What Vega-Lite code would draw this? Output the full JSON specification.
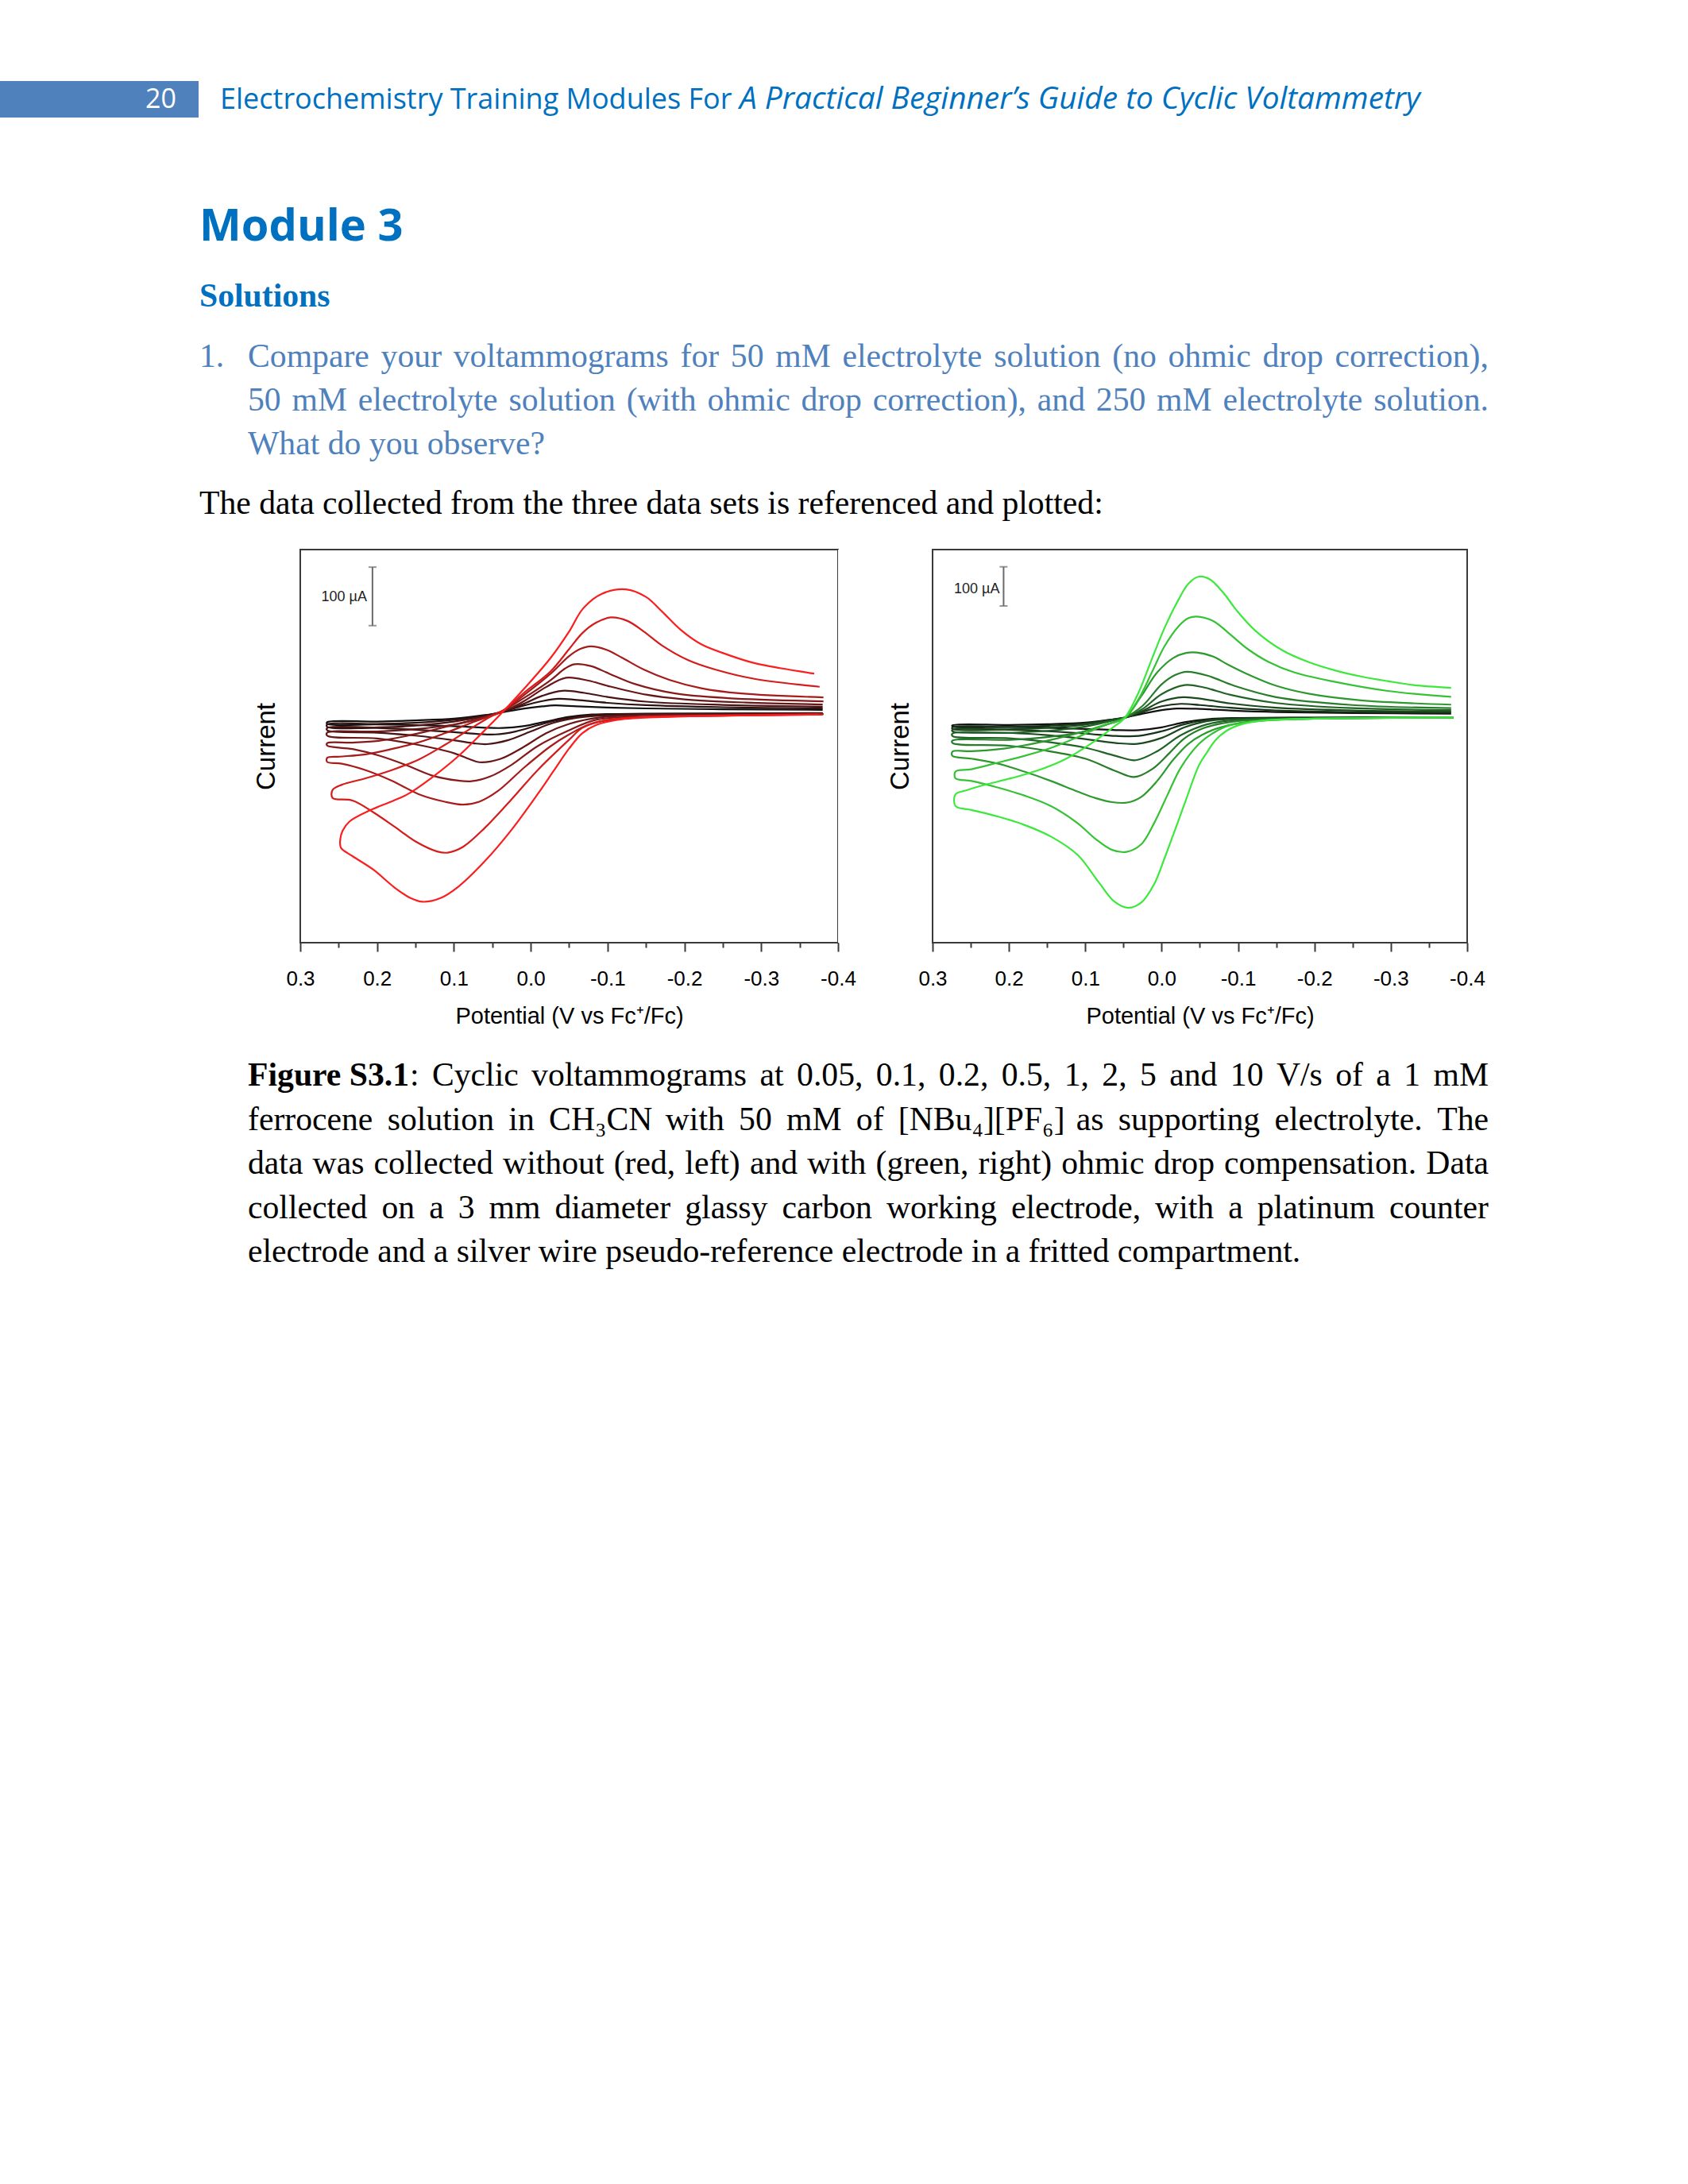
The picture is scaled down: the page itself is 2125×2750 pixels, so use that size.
{
"$schema": "https://vega.github.io/schema/vega-lite/v6.json",
"background": "white",
"padding": {"left": 0, "top": 102, "right": 0, "bottom": 0},
"spacing": 0,
"bounds": "full",
"config": {"view": {"stroke": null}, "font": "Liberation Sans"},
"datasets": {
"L": [
{"r":"0.05","k":0,"V":0.265,"I":-17},{"r":"0.05","k":-1,"V":0.2,"I":-16},{"r":"0.05","k":-2,"V":0.15,"I":-14},{"r":"0.05","k":-3,"V":0.1,"I":-11},{"r":"0.05","k":-4,"V":0.06,"I":-5},{"r":"0.05","k":-5,"V":0.036,"I":0},{"r":"0.05","k":-6,"V":0.01,"I":6},{"r":"0.05","k":-7,"V":-0.015,"I":10},{"r":"0.05","k":-8,"V":-0.031,"I":11.7},{"r":"0.05","k":-9,"V":-0.06,"I":10},{"r":"0.05","k":-10,"V":-0.1,"I":8},{"r":"0.05","k":-11,"V":-0.15,"I":6.5},{"r":"0.05","k":-12,"V":-0.25,"I":5},{"r":"0.05","k":-13,"V":-0.38,"I":4},
{"r":"0.05","k":1,"V":0.265,"I":-20},{"r":"0.05","k":2,"V":0.2,"I":-21},{"r":"0.05","k":3,"V":0.15,"I":-22},{"r":"0.05","k":4,"V":0.1,"I":-24},{"r":"0.05","k":5,"V":0.06,"I":-26.5},{"r":"0.05","k":6,"V":0.037,"I":-27},{"r":"0.05","k":7,"V":0.01,"I":-24},{"r":"0.05","k":8,"V":-0.02,"I":-16},{"r":"0.05","k":9,"V":-0.05,"I":-8},{"r":"0.05","k":10,"V":-0.08,"I":-4},{"r":"0.05","k":11,"V":-0.15,"I":-2.5},{"r":"0.05","k":12,"V":-0.25,"I":-2},{"r":"0.05","k":13,"V":-0.38,"I":-1.5},
{"r":"0.1","k":0,"V":0.265,"I":-21},{"r":"0.1","k":-1,"V":0.2,"I":-20},{"r":"0.1","k":-2,"V":0.15,"I":-18},{"r":"0.1","k":-3,"V":0.1,"I":-13},{"r":"0.1","k":-4,"V":0.06,"I":-6},{"r":"0.1","k":-5,"V":0.036,"I":1},{"r":"0.1","k":-6,"V":0.01,"I":11},{"r":"0.1","k":-7,"V":-0.015,"I":19},{"r":"0.1","k":-8,"V":-0.036,"I":23},{"r":"0.1","k":-9,"V":-0.06,"I":21},{"r":"0.1","k":-10,"V":-0.1,"I":16},{"r":"0.1","k":-11,"V":-0.15,"I":12},{"r":"0.1","k":-12,"V":-0.25,"I":8.5},{"r":"0.1","k":-13,"V":-0.38,"I":6.3},
{"r":"0.1","k":1,"V":0.265,"I":-25},{"r":"0.1","k":2,"V":0.2,"I":-27},{"r":"0.1","k":3,"V":0.15,"I":-30},{"r":"0.1","k":4,"V":0.1,"I":-34},{"r":"0.1","k":5,"V":0.07,"I":-37},{"r":"0.1","k":6,"V":0.046,"I":-38},{"r":"0.1","k":7,"V":0.02,"I":-33},{"r":"0.1","k":8,"V":-0.01,"I":-22},{"r":"0.1","k":9,"V":-0.04,"I":-12},{"r":"0.1","k":10,"V":-0.08,"I":-5},{"r":"0.1","k":11,"V":-0.15,"I":-3},{"r":"0.1","k":12,"V":-0.25,"I":-2.5},{"r":"0.1","k":13,"V":-0.38,"I":-2},
{"r":"0.2","k":0,"V":0.265,"I":-27},{"r":"0.2","k":-1,"V":0.2,"I":-26},{"r":"0.2","k":-2,"V":0.15,"I":-23},{"r":"0.2","k":-3,"V":0.1,"I":-16},{"r":"0.2","k":-4,"V":0.06,"I":-7},{"r":"0.2","k":-5,"V":0.036,"I":1},{"r":"0.2","k":-6,"V":0.01,"I":14},{"r":"0.2","k":-7,"V":-0.015,"I":28},{"r":"0.2","k":-8,"V":-0.041,"I":36.6},{"r":"0.2","k":-9,"V":-0.07,"I":33},{"r":"0.2","k":-10,"V":-0.1,"I":26},{"r":"0.2","k":-11,"V":-0.15,"I":18},{"r":"0.2","k":-12,"V":-0.25,"I":12.5},{"r":"0.2","k":-13,"V":-0.38,"I":9.5},
{"r":"0.2","k":1,"V":0.265,"I":-31},{"r":"0.2","k":2,"V":0.2,"I":-35},{"r":"0.2","k":3,"V":0.15,"I":-40},{"r":"0.2","k":4,"V":0.1,"I":-48},{"r":"0.2","k":5,"V":0.075,"I":-53},{"r":"0.2","k":6,"V":0.057,"I":-54.6},{"r":"0.2","k":7,"V":0.03,"I":-48},{"r":"0.2","k":8,"V":0.0,"I":-33},{"r":"0.2","k":9,"V":-0.03,"I":-18},{"r":"0.2","k":10,"V":-0.07,"I":-8},{"r":"0.2","k":11,"V":-0.15,"I":-4},{"r":"0.2","k":12,"V":-0.25,"I":-3},{"r":"0.2","k":13,"V":-0.38,"I":-2.5},
{"r":"0.5","k":0,"V":0.265,"I":-35},{"r":"0.5","k":-1,"V":0.2,"I":-33},{"r":"0.5","k":-2,"V":0.15,"I":-29},{"r":"0.5","k":-3,"V":0.1,"I":-21},{"r":"0.5","k":-4,"V":0.06,"I":-9},{"r":"0.5","k":-5,"V":0.036,"I":1},{"r":"0.5","k":-6,"V":0.01,"I":18},{"r":"0.5","k":-7,"V":-0.02,"I":43},{"r":"0.5","k":-8,"V":-0.046,"I":59},{"r":"0.5","k":-9,"V":-0.075,"I":54},{"r":"0.5","k":-10,"V":-0.1,"I":45},{"r":"0.5","k":-11,"V":-0.15,"I":30},{"r":"0.5","k":-12,"V":-0.2,"I":22},{"r":"0.5","k":-13,"V":-0.28,"I":16.5},{"r":"0.5","k":-14,"V":-0.38,"I":13.2},
{"r":"0.5","k":1,"V":0.265,"I":-40},{"r":"0.5","k":2,"V":0.2,"I":-45},{"r":"0.5","k":3,"V":0.15,"I":-55},{"r":"0.5","k":4,"V":0.1,"I":-70},{"r":"0.5","k":5,"V":0.08,"I":-80},{"r":"0.5","k":6,"V":0.067,"I":-85.5},{"r":"0.5","k":7,"V":0.04,"I":-80},{"r":"0.5","k":8,"V":0.01,"I":-60},{"r":"0.5","k":9,"V":-0.02,"I":-36},{"r":"0.5","k":10,"V":-0.05,"I":-20},{"r":"0.5","k":11,"V":-0.09,"I":-9},{"r":"0.5","k":12,"V":-0.15,"I":-5},{"r":"0.5","k":13,"V":-0.25,"I":-3.5},{"r":"0.5","k":14,"V":-0.38,"I":-2.5},
{"r":"1","k":0,"V":0.265,"I":-53},{"r":"1","k":-1,"V":0.232,"I":-52},{"r":"1","k":-2,"V":0.198,"I":-49},{"r":"1","k":-3,"V":0.163,"I":-41},{"r":"1","k":-4,"V":0.129,"I":-31},{"r":"1","k":-5,"V":0.095,"I":-20},{"r":"1","k":-6,"V":0.06,"I":-8.6},{"r":"1","k":-7,"V":0.036,"I":2.8},{"r":"1","k":-8,"V":0.008,"I":25},{"r":"1","k":-9,"V":-0.026,"I":55},{"r":"1","k":-10,"V":-0.045,"I":75},{"r":"1","k":-11,"V":-0.057,"I":82},{"r":"1","k":-12,"V":-0.078,"I":79},{"r":"1","k":-13,"V":-0.102,"I":66},{"r":"1","k":-14,"V":-0.136,"I":48},{"r":"1","k":-15,"V":-0.188,"I":32},{"r":"1","k":-16,"V":-0.257,"I":24},{"r":"1","k":-17,"V":-0.381,"I":18.6},
{"r":"1","k":1,"V":0.265,"I":-57},{"r":"1","k":2,"V":0.232,"I":-63},{"r":"1","k":3,"V":0.198,"I":-74},{"r":"1","k":4,"V":0.163,"I":-90},{"r":"1","k":5,"V":0.129,"I":-108},{"r":"1","k":6,"V":0.094,"I":-117},{"r":"1","k":7,"V":0.077,"I":-118},{"r":"1","k":8,"V":0.053,"I":-110},{"r":"1","k":9,"V":0.025,"I":-90},{"r":"1","k":10,"V":-0.009,"I":-58},{"r":"1","k":11,"V":-0.05,"I":-31},{"r":"1","k":12,"V":-0.085,"I":-13},{"r":"1","k":13,"V":-0.154,"I":-7.6},{"r":"1","k":14,"V":-0.381,"I":-3},
{"r":"2","k":0,"V":0.265,"I":-78},{"r":"2","k":-1,"V":0.249,"I":-76},{"r":"2","k":-2,"V":0.215,"I":-72},{"r":"2","k":-3,"V":0.181,"I":-63},{"r":"2","k":-4,"V":0.146,"I":-51.5},{"r":"2","k":-5,"V":0.112,"I":-36},{"r":"2","k":-6,"V":0.077,"I":-18},{"r":"2","k":-7,"V":0.036,"I":2.8},{"r":"2","k":-8,"V":0.008,"I":30},{"r":"2","k":-9,"V":-0.026,"I":66},{"r":"2","k":-10,"V":-0.05,"I":96},{"r":"2","k":-11,"V":-0.064,"I":108},{"r":"2","k":-12,"V":-0.078,"I":112.6},{"r":"2","k":-13,"V":-0.098,"I":107},{"r":"2","k":-14,"V":-0.119,"I":93},{"r":"2","k":-15,"V":-0.147,"I":73},{"r":"2","k":-16,"V":-0.181,"I":55},{"r":"2","k":-17,"V":-0.222,"I":41},{"r":"2","k":-18,"V":-0.274,"I":32},{"r":"2","k":-19,"V":-0.381,"I":25.3},
{"r":"2","k":1,"V":0.265,"I":-85},{"r":"2","k":2,"V":0.246,"I":-88},{"r":"2","k":3,"V":0.215,"I":-99},{"r":"2","k":4,"V":0.181,"I":-117},{"r":"2","k":5,"V":0.146,"I":-140},{"r":"2","k":6,"V":0.112,"I":-153},{"r":"2","k":7,"V":0.088,"I":-158},{"r":"2","k":8,"V":0.067,"I":-153},{"r":"2","k":9,"V":0.043,"I":-135},{"r":"2","k":10,"V":0.008,"I":-94},{"r":"2","k":11,"V":-0.026,"I":-58},{"r":"2","k":12,"V":-0.05,"I":-38},{"r":"2","k":13,"V":-0.078,"I":-20},{"r":"2","k":14,"V":-0.119,"I":-11},{"r":"2","k":15,"V":-0.222,"I":-6.3},{"r":"2","k":16,"V":-0.381,"I":-3.5},
{"r":"5","k":0,"V":0.258,"I":-133},{"r":"5","k":-1,"V":0.246,"I":-124},{"r":"5","k":-2,"V":0.215,"I":-113},{"r":"5","k":-3,"V":0.181,"I":-99},{"r":"5","k":-4,"V":0.146,"I":-81},{"r":"5","k":-5,"V":0.112,"I":-56},{"r":"5","k":-6,"V":0.077,"I":-27},{"r":"5","k":-7,"V":0.053,"I":-8},{"r":"5","k":-8,"V":0.036,"I":3},{"r":"5","k":-9,"V":0.008,"I":34},{"r":"5","k":-10,"V":-0.026,"I":70},{"r":"5","k":-11,"V":-0.05,"I":108},{"r":"5","k":-12,"V":-0.067,"I":135},{"r":"5","k":-13,"V":-0.085,"I":153},{"r":"5","k":-14,"V":-0.104,"I":162},{"r":"5","k":-15,"V":-0.126,"I":156},{"r":"5","k":-16,"V":-0.147,"I":138},{"r":"5","k":-17,"V":-0.171,"I":114},{"r":"5","k":-18,"V":-0.205,"I":89},{"r":"5","k":-19,"V":-0.24,"I":73},{"r":"5","k":-20,"V":-0.291,"I":57},{"r":"5","k":-21,"V":-0.376,"I":43.5},
{"r":"5","k":1,"V":0.258,"I":-146.5},{"r":"5","k":2,"V":0.232,"I":-151},{"r":"5","k":3,"V":0.205,"I":-171},{"r":"5","k":4,"V":0.177,"I":-196},{"r":"5","k":5,"V":0.15,"I":-221},{"r":"5","k":6,"V":0.122,"I":-238},{"r":"5","k":7,"V":0.108,"I":-240},{"r":"5","k":8,"V":0.088,"I":-230},{"r":"5","k":9,"V":0.06,"I":-198},{"r":"5","k":10,"V":0.025,"I":-149},{"r":"5","k":11,"V":-0.009,"I":-99},{"r":"5","k":12,"V":-0.05,"I":-47},{"r":"5","k":13,"V":-0.067,"I":-27},{"r":"5","k":14,"V":-0.092,"I":-15},{"r":"5","k":15,"V":-0.136,"I":-8.6},{"r":"5","k":16,"V":-0.222,"I":-6.3},{"r":"5","k":17,"V":-0.38,"I":-4},
{"r":"10","k":0,"V":0.248,"I":-218},{"r":"10","k":-1,"V":0.245,"I":-203},{"r":"10","k":-2,"V":0.236,"I":-187},{"r":"10","k":-3,"V":0.208,"I":-167},{"r":"10","k":-4,"V":0.18,"I":-152},{"r":"10","k":-5,"V":0.16,"I":-140},{"r":"10","k":-6,"V":0.13,"I":-113},{"r":"10","k":-7,"V":0.095,"I":-76},{"r":"10","k":-8,"V":0.06,"I":-31},{"r":"10","k":-9,"V":0.036,"I":1},{"r":"10","k":-10,"V":0.008,"I":41},{"r":"10","k":-11,"V":-0.026,"I":93},{"r":"10","k":-12,"V":-0.05,"I":138},{"r":"10","k":-13,"V":-0.068,"I":177},{"r":"10","k":-14,"V":-0.092,"I":202},{"r":"10","k":-15,"V":-0.124,"I":210},{"r":"10","k":-16,"V":-0.15,"I":197},{"r":"10","k":-17,"V":-0.171,"I":172},{"r":"10","k":-18,"V":-0.195,"I":141},{"r":"10","k":-19,"V":-0.222,"I":116},{"r":"10","k":-20,"V":-0.257,"I":98},{"r":"10","k":-21,"V":-0.291,"I":84},{"r":"10","k":-22,"V":-0.326,"I":75},{"r":"10","k":-23,"V":-0.369,"I":66},
{"r":"10","k":1,"V":0.247,"I":-232},{"r":"10","k":2,"V":0.232,"I":-246},{"r":"10","k":3,"V":0.205,"I":-269},{"r":"10","k":4,"V":0.177,"I":-300},{"r":"10","k":5,"V":0.156,"I":-318},{"r":"10","k":6,"V":0.141,"I":-324},{"r":"10","k":7,"V":0.118,"I":-318},{"r":"10","k":8,"V":0.094,"I":-298},{"r":"10","k":9,"V":0.06,"I":-255},{"r":"10","k":10,"V":0.025,"I":-201},{"r":"10","k":11,"V":-0.009,"I":-140},{"r":"10","k":12,"V":-0.03,"I":-100},{"r":"10","k":13,"V":-0.05,"I":-62},{"r":"10","k":14,"V":-0.067,"I":-36},{"r":"10","k":15,"V":-0.085,"I":-22},{"r":"10","k":16,"V":-0.119,"I":-12},{"r":"10","k":17,"V":-0.188,"I":-7.6},{"r":"10","k":18,"V":-0.257,"I":-6},{"r":"10","k":19,"V":-0.375,"I":-4}
],
"R": [
{"r":"0.05","k":0,"V":0.274,"I":-25},{"r":"0.05","k":-1,"V":0.2,"I":-24},{"r":"0.05","k":-2,"V":0.15,"I":-22},{"r":"0.05","k":-3,"V":0.1,"I":-18},{"r":"0.05","k":-4,"V":0.065,"I":-10},{"r":"0.05","k":-5,"V":0.048,"I":-5},{"r":"0.05","k":-6,"V":0.025,"I":5},{"r":"0.05","k":-7,"V":0.0,"I":14},{"r":"0.05","k":-8,"V":-0.02,"I":18},{"r":"0.05","k":-9,"V":-0.05,"I":17},{"r":"0.05","k":-10,"V":-0.09,"I":13},{"r":"0.05","k":-11,"V":-0.15,"I":9},{"r":"0.05","k":-12,"V":-0.25,"I":6.5},{"r":"0.05","k":-13,"V":-0.379,"I":4.7},
{"r":"0.05","k":1,"V":0.274,"I":-28},{"r":"0.05","k":2,"V":0.2,"I":-29},{"r":"0.05","k":3,"V":0.15,"I":-31},{"r":"0.05","k":4,"V":0.1,"I":-34},{"r":"0.05","k":5,"V":0.06,"I":-37},{"r":"0.05","k":6,"V":0.03,"I":-37},{"r":"0.05","k":7,"V":0.0,"I":-30},{"r":"0.05","k":8,"V":-0.03,"I":-17},{"r":"0.05","k":9,"V":-0.06,"I":-9},{"r":"0.05","k":10,"V":-0.1,"I":-6},{"r":"0.05","k":11,"V":-0.2,"I":-5},{"r":"0.05","k":12,"V":-0.382,"I":-4.7},
{"r":"0.1","k":0,"V":0.274,"I":-30},{"r":"0.1","k":-1,"V":0.2,"I":-29},{"r":"0.1","k":-2,"V":0.15,"I":-26},{"r":"0.1","k":-3,"V":0.1,"I":-20},{"r":"0.1","k":-4,"V":0.065,"I":-10},{"r":"0.1","k":-5,"V":0.048,"I":-5},{"r":"0.1","k":-6,"V":0.025,"I":9},{"r":"0.1","k":-7,"V":0.0,"I":24},{"r":"0.1","k":-8,"V":-0.025,"I":30},{"r":"0.1","k":-9,"V":-0.05,"I":27},{"r":"0.1","k":-10,"V":-0.09,"I":20},{"r":"0.1","k":-11,"V":-0.15,"I":13},{"r":"0.1","k":-12,"V":-0.25,"I":9},{"r":"0.1","k":-13,"V":-0.379,"I":7.5},
{"r":"0.1","k":1,"V":0.274,"I":-34},{"r":"0.1","k":2,"V":0.2,"I":-36},{"r":"0.1","k":3,"V":0.15,"I":-40},{"r":"0.1","k":4,"V":0.1,"I":-46},{"r":"0.1","k":5,"V":0.06,"I":-52},{"r":"0.1","k":6,"V":0.03,"I":-52},{"r":"0.1","k":7,"V":0.0,"I":-40},{"r":"0.1","k":8,"V":-0.03,"I":-22},{"r":"0.1","k":9,"V":-0.06,"I":-11},{"r":"0.1","k":10,"V":-0.1,"I":-7},{"r":"0.1","k":11,"V":-0.2,"I":-5.5},{"r":"0.1","k":12,"V":-0.382,"I":-4.7},
{"r":"0.2","k":0,"V":0.274,"I":-36},{"r":"0.2","k":-1,"V":0.2,"I":-35},{"r":"0.2","k":-2,"V":0.15,"I":-31},{"r":"0.2","k":-3,"V":0.1,"I":-23},{"r":"0.2","k":-4,"V":0.065,"I":-11},{"r":"0.2","k":-5,"V":0.048,"I":-5},{"r":"0.2","k":-6,"V":0.025,"I":12},{"r":"0.2","k":-7,"V":0.0,"I":36},{"r":"0.2","k":-8,"V":-0.028,"I":47},{"r":"0.2","k":-9,"V":-0.055,"I":42},{"r":"0.2","k":-10,"V":-0.09,"I":31},{"r":"0.2","k":-11,"V":-0.15,"I":20},{"r":"0.2","k":-12,"V":-0.25,"I":13},{"r":"0.2","k":-13,"V":-0.379,"I":10},
{"r":"0.2","k":1,"V":0.274,"I":-40},{"r":"0.2","k":2,"V":0.2,"I":-44},{"r":"0.2","k":3,"V":0.15,"I":-50},{"r":"0.2","k":4,"V":0.1,"I":-60},{"r":"0.2","k":5,"V":0.06,"I":-70},{"r":"0.2","k":6,"V":0.032,"I":-72},{"r":"0.2","k":7,"V":0.0,"I":-57},{"r":"0.2","k":8,"V":-0.03,"I":-30},{"r":"0.2","k":9,"V":-0.06,"I":-14},{"r":"0.2","k":10,"V":-0.1,"I":-8},{"r":"0.2","k":11,"V":-0.2,"I":-6},{"r":"0.2","k":12,"V":-0.382,"I":-4.7},
{"r":"0.5","k":0,"V":0.274,"I":-46},{"r":"0.5","k":-1,"V":0.2,"I":-44},{"r":"0.5","k":-2,"V":0.15,"I":-39},{"r":"0.5","k":-3,"V":0.1,"I":-28},{"r":"0.5","k":-4,"V":0.065,"I":-13},{"r":"0.5","k":-5,"V":0.048,"I":-5},{"r":"0.5","k":-6,"V":0.025,"I":17},{"r":"0.5","k":-7,"V":0.0,"I":55},{"r":"0.5","k":-8,"V":-0.03,"I":78},{"r":"0.5","k":-9,"V":-0.055,"I":72},{"r":"0.5","k":-10,"V":-0.09,"I":53},{"r":"0.5","k":-11,"V":-0.15,"I":32},{"r":"0.5","k":-12,"V":-0.25,"I":19},{"r":"0.5","k":-13,"V":-0.379,"I":14},
{"r":"0.5","k":1,"V":0.274,"I":-52},{"r":"0.5","k":2,"V":0.2,"I":-58},{"r":"0.5","k":3,"V":0.15,"I":-67},{"r":"0.5","k":4,"V":0.1,"I":-82},{"r":"0.5","k":5,"V":0.06,"I":-103},{"r":"0.5","k":6,"V":0.034,"I":-114},{"r":"0.5","k":7,"V":0.005,"I":-90},{"r":"0.5","k":8,"V":-0.025,"I":-50},{"r":"0.5","k":9,"V":-0.06,"I":-22},{"r":"0.5","k":10,"V":-0.1,"I":-11},{"r":"0.5","k":11,"V":-0.2,"I":-7},{"r":"0.5","k":12,"V":-0.382,"I":-4.7},
{"r":"1","k":0,"V":0.274,"I":-64},{"r":"1","k":-1,"V":0.2,"I":-62},{"r":"1","k":-2,"V":0.15,"I":-55},{"r":"1","k":-3,"V":0.1,"I":-40},{"r":"1","k":-4,"V":0.065,"I":-18},{"r":"1","k":-5,"V":0.048,"I":-5},{"r":"1","k":-6,"V":0.025,"I":25},{"r":"1","k":-7,"V":0.0,"I":80},{"r":"1","k":-8,"V":-0.018,"I":104},{"r":"1","k":-9,"V":-0.033,"I":112},{"r":"1","k":-10,"V":-0.06,"I":102},{"r":"1","k":-11,"V":-0.095,"I":76},{"r":"1","k":-12,"V":-0.15,"I":47},{"r":"1","k":-13,"V":-0.25,"I":27},{"r":"1","k":-14,"V":-0.379,"I":19},
{"r":"1","k":1,"V":0.274,"I":-70},{"r":"1","k":2,"V":0.2,"I":-77},{"r":"1","k":3,"V":0.15,"I":-90},{"r":"1","k":4,"V":0.1,"I":-110},{"r":"1","k":5,"V":0.06,"I":-142},{"r":"1","k":6,"V":0.036,"I":-157},{"r":"1","k":7,"V":0.012,"I":-136},{"r":"1","k":8,"V":-0.01,"I":-96},{"r":"1","k":9,"V":-0.03,"I":-58},{"r":"1","k":10,"V":-0.055,"I":-32},{"r":"1","k":11,"V":-0.1,"I":-14},{"r":"1","k":12,"V":-0.2,"I":-8},{"r":"1","k":13,"V":-0.382,"I":-4.7},
{"r":"2","k":0,"V":0.274,"I":-92},{"r":"2","k":-1,"V":0.249,"I":-91},{"r":"2","k":-2,"V":0.214,"I":-86},{"r":"2","k":-3,"V":0.18,"I":-76},{"r":"2","k":-4,"V":0.145,"I":-62},{"r":"2","k":-5,"V":0.11,"I":-45},{"r":"2","k":-6,"V":0.076,"I":-25},{"r":"2","k":-7,"V":0.048,"I":-5},{"r":"2","k":-8,"V":0.027,"I":49},{"r":"2","k":-9,"V":0.006,"I":110},{"r":"2","k":-10,"V":-0.015,"I":147},{"r":"2","k":-11,"V":-0.032,"I":160},{"r":"2","k":-12,"V":-0.046,"I":161},{"r":"2","k":-13,"V":-0.067,"I":151},{"r":"2","k":-14,"V":-0.087,"I":130},{"r":"2","k":-15,"V":-0.115,"I":103.5},{"r":"2","k":-16,"V":-0.15,"I":76},{"r":"2","k":-17,"V":-0.192,"I":56},{"r":"2","k":-18,"V":-0.261,"I":39},{"r":"2","k":-19,"V":-0.379,"I":28},
{"r":"2","k":1,"V":0.274,"I":-103},{"r":"2","k":2,"V":0.249,"I":-110},{"r":"2","k":3,"V":0.214,"I":-123},{"r":"2","k":4,"V":0.18,"I":-143},{"r":"2","k":5,"V":0.145,"I":-167},{"r":"2","k":6,"V":0.11,"I":-194},{"r":"2","k":7,"V":0.086,"I":-211},{"r":"2","k":8,"V":0.065,"I":-221},{"r":"2","k":9,"V":0.045,"I":-222},{"r":"2","k":10,"V":0.027,"I":-208},{"r":"2","k":11,"V":0.006,"I":-167},{"r":"2","k":12,"V":-0.015,"I":-113},{"r":"2","k":13,"V":-0.035,"I":-72},{"r":"2","k":14,"V":-0.053,"I":-49},{"r":"2","k":15,"V":-0.074,"I":-32},{"r":"2","k":16,"V":-0.105,"I":-18},{"r":"2","k":17,"V":-0.157,"I":-10},{"r":"2","k":18,"V":-0.382,"I":-4.7},
{"r":"5","k":0,"V":0.27,"I":-143},{"r":"5","k":-1,"V":0.249,"I":-137},{"r":"5","k":-2,"V":0.214,"I":-120},{"r":"5","k":-3,"V":0.18,"I":-103},{"r":"5","k":-4,"V":0.145,"I":-82.5},{"r":"5","k":-5,"V":0.11,"I":-55},{"r":"5","k":-6,"V":0.076,"I":-25},{"r":"5","k":-7,"V":0.048,"I":-5},{"r":"5","k":-8,"V":0.03,"I":43},{"r":"5","k":-9,"V":0.013,"I":110},{"r":"5","k":-10,"V":-0.004,"I":178},{"r":"5","k":-11,"V":-0.022,"I":228},{"r":"5","k":-12,"V":-0.035,"I":249},{"r":"5","k":-13,"V":-0.046,"I":253},{"r":"5","k":-14,"V":-0.067,"I":242},{"r":"5","k":-15,"V":-0.087,"I":212},{"r":"5","k":-16,"V":-0.112,"I":171},{"r":"5","k":-17,"V":-0.14,"I":137},{"r":"5","k":-18,"V":-0.174,"I":110},{"r":"5","k":-19,"V":-0.226,"I":86.5},{"r":"5","k":-20,"V":-0.296,"I":63},{"r":"5","k":-21,"V":-0.379,"I":48},
{"r":"5","k":1,"V":0.27,"I":-160},{"r":"5","k":2,"V":0.249,"I":-167},{"r":"5","k":3,"V":0.214,"I":-184},{"r":"5","k":4,"V":0.18,"I":-204},{"r":"5","k":5,"V":0.145,"I":-231},{"r":"5","k":6,"V":0.11,"I":-275},{"r":"5","k":7,"V":0.086,"I":-316},{"r":"5","k":8,"V":0.065,"I":-343},{"r":"5","k":9,"V":0.046,"I":-348},{"r":"5","k":10,"V":0.027,"I":-329},{"r":"5","k":11,"V":0.01,"I":-275},{"r":"5","k":12,"V":-0.008,"I":-201},{"r":"5","k":13,"V":-0.025,"I":-133},{"r":"5","k":14,"V":-0.049,"I":-72},{"r":"5","k":15,"V":-0.067,"I":-45},{"r":"5","k":16,"V":-0.087,"I":-26},{"r":"5","k":17,"V":-0.122,"I":-15},{"r":"5","k":18,"V":-0.192,"I":-8},{"r":"5","k":19,"V":-0.382,"I":-4.7},
{"r":"10","k":0,"V":0.27,"I":-201},{"r":"10","k":-1,"V":0.256,"I":-191},{"r":"10","k":-2,"V":0.232,"I":-177},{"r":"10","k":-3,"V":0.197,"I":-160},{"r":"10","k":-4,"V":0.162,"I":-140},{"r":"10","k":-5,"V":0.128,"I":-113},{"r":"10","k":-6,"V":0.093,"I":-72},{"r":"10","k":-7,"V":0.065,"I":-32},{"r":"10","k":-8,"V":0.048,"I":-5},{"r":"10","k":-9,"V":0.03,"I":60},{"r":"10","k":-10,"V":0.013,"I":144},{"r":"10","k":-11,"V":-0.004,"I":225},{"r":"10","k":-12,"V":-0.022,"I":296},{"r":"10","k":-13,"V":-0.035,"I":337},{"r":"10","k":-14,"V":-0.049,"I":355},{"r":"10","k":-15,"V":-0.063,"I":348},{"r":"10","k":-16,"V":-0.081,"I":313},{"r":"10","k":-17,"V":-0.098,"I":269},{"r":"10","k":-18,"V":-0.122,"I":218},{"r":"10","k":-19,"V":-0.157,"I":168},{"r":"10","k":-20,"V":-0.192,"I":137},{"r":"10","k":-21,"V":-0.226,"I":116},{"r":"10","k":-22,"V":-0.261,"I":100},{"r":"10","k":-23,"V":-0.296,"I":88},{"r":"10","k":-24,"V":-0.33,"I":78},{"r":"10","k":-25,"V":-0.379,"I":71},
{"r":"10","k":1,"V":0.27,"I":-231},{"r":"10","k":2,"V":0.249,"I":-241},{"r":"10","k":3,"V":0.214,"I":-258},{"r":"10","k":4,"V":0.18,"I":-279},{"r":"10","k":5,"V":0.145,"I":-309},{"r":"10","k":6,"V":0.11,"I":-356},{"r":"10","k":7,"V":0.083,"I":-424},{"r":"10","k":8,"V":0.062,"I":-475},{"r":"10","k":9,"V":0.044,"I":-491},{"r":"10","k":10,"V":0.027,"I":-478},{"r":"10","k":11,"V":0.01,"I":-431},{"r":"10","k":12,"V":-0.004,"I":-363},{"r":"10","k":13,"V":-0.018,"I":-289},{"r":"10","k":14,"V":-0.032,"I":-214},{"r":"10","k":15,"V":-0.049,"I":-126},{"r":"10","k":16,"V":-0.06,"I":-92},{"r":"10","k":17,"V":-0.07,"I":-64},{"r":"10","k":18,"V":-0.084,"I":-40},{"r":"10","k":19,"V":-0.105,"I":-22},{"r":"10","k":20,"V":-0.14,"I":-11.5},{"r":"10","k":21,"V":-0.226,"I":-7},{"r":"10","k":22,"V":-0.382,"I":-4.7}
]
},
"vconcat": [
{
"spacing": 0, "bounds": "flush",
"hconcat": [
{"width": 250, "height": 46, "view": {"fill": "#4F81BD", "stroke": null},
 "data": {"values": [{"t": "20"}]},
 "mark": {"type": "text", "align": "right", "baseline": "alphabetic", "font": "Open Sans", "fontSize": 34, "color": "white"},
 "encoding": {"text": {"field": "t"}, "x": {"value": 222}, "y": {"value": 34}}},
{"width": 27, "height": 46, "data": {"values": []}, "mark": "text"},
{"width": 652, "height": 46,
 "data": {"values": [{"t": "Electrochemistry Training Modules For"}]},
 "mark": {"type": "text", "align": "left", "baseline": "alphabetic", "font": "Open Sans", "fontSize": 36, "color": "#0070C0"},
 "encoding": {"text": {"field": "t"}, "x": {"value": 0}, "y": {"value": 35}}},
{"width": 1196, "height": 46,
 "data": {"values": [{"t": "A Practical Beginner’s Guide to Cyclic Voltammetry"}]},
 "mark": {"type": "text", "align": "left", "baseline": "alphabetic", "font": "Open Sans", "fontStyle": "italic", "fontSize": 38.8, "color": "#0070C0"},
 "encoding": {"text": {"field": "t"}, "x": {"value": 2}, "y": {"value": 35}}}
]
},
{
"width": 2125, "height": 543,
"view": {"fill": "white", "stroke": null},
"resolve": {"scale": {"x": "independent"}},
"layer": [
 {"data": {"values": [{"t": "Module 3"}]},
  "mark": {"type": "text", "align": "left", "baseline": "alphabetic", "font": "Open Sans", "fontWeight": "bold", "fontSize": 56, "color": "#0070C0"},
  "encoding": {"text": {"field": "t"}, "x": {"value": 251}, "y": {"value": 155}}},
 {"data": {"values": [{"t": "Solutions"}]},
  "mark": {"type": "text", "align": "left", "baseline": "alphabetic", "font": "Liberation Serif", "fontWeight": "bold", "fontSize": 41.7, "color": "#0070C0"},
  "encoding": {"text": {"field": "t"}, "x": {"value": 251}, "y": {"value": 238}}},
 {"data": {"values": [{"t": "1."}]},
  "mark": {"type": "text", "align": "left", "baseline": "alphabetic", "font": "Liberation Serif", "fontSize": 41.7, "color": "#4F81BD"},
  "encoding": {"text": {"field": "t"}, "x": {"value": 251}, "y": {"value": 314}}},
 {"data": {"values": [{"w":1,"t":"Compare"},{"w":2,"t":"your"},{"w":3,"t":"voltammograms"},{"w":4,"t":"for"},{"w":5,"t":"50"},{"w":6,"t":"mM"},{"w":7,"t":"electrolyte"},{"w":8,"t":"solution"},{"w":9,"t":"(no"},{"w":10,"t":"ohmic"},{"w":11,"t":"drop"},{"w":12,"t":"correction),"}]},
  "mark": {"type": "text", "align": "left", "baseline": "alphabetic", "font": "Liberation Serif", "fontSize": 41.7, "color": "#4F81BD"},
  "encoding": {"text": {"field": "t"}, "y": {"value": 314},
   "x": {"field": "w", "type": "quantitative", "axis": null, "scale": {"nice": false, "zero": false, "domain": [1,2,3,4,5,6,7,8,9,10,11,12], "range": [312,479.6,570.7,856.5,919.8,976.2,1060.4,1251.2,1400.3,1470.5,1589.5,1680.6]}}}},
 {"data": {"values": [{"w":1,"t":"50"},{"w":2,"t":"mM"},{"w":3,"t":"electrolyte"},{"w":4,"t":"solution"},{"w":5,"t":"(with"},{"w":6,"t":"ohmic"},{"w":7,"t":"drop"},{"w":8,"t":"correction),"},{"w":9,"t":"and"},{"w":10,"t":"250"},{"w":11,"t":"mM"},{"w":12,"t":"electrolyte"},{"w":13,"t":"solution."}]},
  "mark": {"type": "text", "align": "left", "baseline": "alphabetic", "font": "Liberation Serif", "fontSize": 41.7, "color": "#4F81BD"},
  "encoding": {"text": {"field": "t"}, "y": {"value": 369},
   "x": {"field": "w", "type": "quantitative", "axis": null, "scale": {"nice": false, "zero": false, "domain": [1,2,3,4,5,6,7,8,9,10,11,12,13], "range": [312,367.5,450.7,640.5,788.7,890.5,1008.5,1098.7,1305.8,1379.8,1456.1,1539.4,1729.2]}}}},
 {"data": {"values": [{"t": "What do you observe?"}]},
  "mark": {"type": "text", "align": "left", "baseline": "alphabetic", "font": "Liberation Serif", "fontSize": 41.7, "color": "#4F81BD"},
  "encoding": {"text": {"field": "t"}, "x": {"value": 312}, "y": {"value": 424}}},
 {"data": {"values": [{"t": "The data collected from the three data sets is referenced and plotted:"}]},
  "mark": {"type": "text", "align": "left", "baseline": "alphabetic", "font": "Liberation Serif", "fontSize": 41.7, "color": "black"},
  "encoding": {"text": {"field": "t"}, "x": {"value": 251}, "y": {"value": 499}}}
]
},
{
"spacing": 0, "bounds": "flush",
"resolve": {"scale": {"color": "independent"}},
"hconcat": [
{"width": 378, "height": 495, "view": {"fill": "white", "stroke": null}, "data": {"values": []}, "mark": "text"},
{
"width": 677, "height": 495,
"view": {"stroke": "#3a3a3a", "strokeWidth": 2},
"layer": [
 {"data": {"name": "L"},
  "mark": {"type": "line", "interpolate": "catmull-rom", "strokeWidth": 2.2},
  "encoding": {
   "x": {"field": "V", "type": "quantitative",
     "scale": {"domain": [-0.4, 0.3], "reverse": true, "nice": false, "zero": false},
     "axis": {"values": [0.3,0.25,0.2,0.15,0.1,0.05,0,-0.05,-0.1,-0.15,-0.2,-0.25,-0.3,-0.35,-0.4],
       "labelExpr": "abs(datum.value*10 - round(datum.value*10)) < 0.01 ? (datum.value < -0.001 ? '-' : '') + format(abs(datum.value), '.1f') : ''",
       "tickSize": {"condition": {"test": "abs(datum.value*10 - round(datum.value*10)) < 0.01", "value": 11}, "value": 6},
       "tickColor": "#3a3a3a", "tickWidth": 2, "domain": false, "grid": false,
       "labelFont": "Liberation Sans", "labelFontSize": 26, "labelColor": "black", "labelPadding": 21,
       "labelOverlap": false, "labelFlush": false, "labelBound": false,
       "title": "Potential (V vs Fc⁺/Fc)", "titleFont": "Liberation Sans", "titleFontSize": 29, "titleFontWeight": "normal", "titleColor": "black", "titlePadding": 20}},
   "y": {"field": "I", "type": "quantitative",
     "scale": {"domain": [-394, 278], "nice": false, "zero": false},
     "axis": {"title": "Current", "ticks": false, "labels": false, "domain": false, "grid": false,
       "titleFont": "Liberation Sans", "titleFontSize": 33, "titleFontWeight": "normal", "titleColor": "black", "titlePadding": 26}},
   "color": {"field": "r", "type": "nominal",
     "scale": {"domain": ["0.05","0.1","0.2","0.5","1","2","5","10"],
       "range": ["#111111","#2e1111","#4a1414","#671717","#861a1a","#a81b1b","#d41c1c","#fa1e1e"]},
     "legend": null},
   "order": {"field": "k", "type": "quantitative"}
  }},
 {"data": {"values": [{"V": 0.206, "lo": 148, "hi": 248}]},
  "mark": {"type": "rule", "color": "#6b6b6b", "strokeWidth": 2},
  "encoding": {"x": {"field": "V", "type": "quantitative"}, "y": {"field": "lo", "type": "quantitative"}, "y2": {"field": "hi"}}},
 {"data": {"values": [{"V": 0.206, "I": 148}, {"V": 0.206, "I": 248}]},
  "mark": {"type": "tick", "orient": "horizontal", "color": "#6b6b6b", "size": 10, "thickness": 2},
  "encoding": {"x": {"field": "V", "type": "quantitative"}, "y": {"field": "I", "type": "quantitative"}}},
 {"data": {"values": [{"V": 0.206, "I": 197, "t": "100 µA"}]},
  "mark": {"type": "text", "align": "right", "baseline": "middle", "dx": -7, "fontSize": 18, "font": "Liberation Sans", "color": "#222222"},
  "encoding": {"x": {"field": "V", "type": "quantitative"}, "y": {"field": "I", "type": "quantitative"}, "text": {"field": "t"}}}
]
},
{"width": 119, "height": 495, "view": {"fill": "white", "stroke": null}, "data": {"values": []}, "mark": "text"},
{
"width": 673, "height": 495,
"view": {"stroke": "#3a3a3a", "strokeWidth": 2},
"layer": [
 {"data": {"name": "R"},
  "mark": {"type": "line", "interpolate": "catmull-rom", "strokeWidth": 2.2},
  "encoding": {
   "x": {"field": "V", "type": "quantitative",
     "scale": {"domain": [-0.4, 0.3], "reverse": true, "nice": false, "zero": false},
     "axis": {"values": [0.3,0.25,0.2,0.15,0.1,0.05,0,-0.05,-0.1,-0.15,-0.2,-0.25,-0.3,-0.35,-0.4],
       "labelExpr": "abs(datum.value*10 - round(datum.value*10)) < 0.01 ? (datum.value < -0.001 ? '-' : '') + format(abs(datum.value), '.1f') : ''",
       "tickSize": {"condition": {"test": "abs(datum.value*10 - round(datum.value*10)) < 0.01", "value": 11}, "value": 6},
       "tickColor": "#3a3a3a", "tickWidth": 2, "domain": false, "grid": false,
       "labelFont": "Liberation Sans", "labelFontSize": 26, "labelColor": "black", "labelPadding": 21,
       "labelOverlap": false, "labelFlush": false, "labelBound": false,
       "title": "Potential (V vs Fc⁺/Fc)", "titleFont": "Liberation Sans", "titleFontSize": 29, "titleFontWeight": "normal", "titleColor": "black", "titlePadding": 20}},
   "y": {"field": "I", "type": "quantitative",
     "scale": {"domain": [-580, 424], "nice": false, "zero": false},
     "axis": {"title": "Current", "ticks": false, "labels": false, "domain": false, "grid": false,
       "titleFont": "Liberation Sans", "titleFontSize": 33, "titleFontWeight": "normal", "titleColor": "black", "titlePadding": 24}},
   "color": {"field": "r", "type": "nominal",
     "scale": {"domain": ["0.05","0.1","0.2","0.5","1","2","5","10"],
       "range": ["#111111","#163217","#1b4a1d","#216324","#287d2a","#2e9a2e","#35c235","#3de83d"]},
     "legend": null},
   "order": {"field": "k", "type": "quantitative"}
  }},
 {"data": {"values": [{"V": 0.207, "lo": 280, "hi": 380}]},
  "mark": {"type": "rule", "color": "#6b6b6b", "strokeWidth": 2},
  "encoding": {"x": {"field": "V", "type": "quantitative"}, "y": {"field": "lo", "type": "quantitative"}, "y2": {"field": "hi"}}},
 {"data": {"values": [{"V": 0.207, "I": 280}, {"V": 0.207, "I": 380}]},
  "mark": {"type": "tick", "orient": "horizontal", "color": "#6b6b6b", "size": 10, "thickness": 2},
  "encoding": {"x": {"field": "V", "type": "quantitative"}, "y": {"field": "I", "type": "quantitative"}}},
 {"data": {"values": [{"V": 0.207, "I": 322, "t": "100 µA"}]},
  "mark": {"type": "text", "align": "right", "baseline": "middle", "dx": -5, "fontSize": 18, "font": "Liberation Sans", "color": "#222222"},
  "encoding": {"x": {"field": "V", "type": "quantitative"}, "y": {"field": "I", "type": "quantitative"}, "text": {"field": "t"}}}
]
}
]
},
{
"width": 2125, "height": 340,
"view": {"fill": "white", "stroke": null},
"resolve": {"scale": {"x": "independent"}},
"layer": [
 {"data": {"values": [{"t": "Figure S3.1"}]},
  "mark": {"type": "text", "align": "left", "baseline": "alphabetic", "font": "Liberation Serif", "fontWeight": "bold", "fontSize": 41.7, "color": "black"},
  "encoding": {"text": {"field": "t"}, "x": {"value": 312}, "y": {"value": 72}}},
 {"data": {"values": [{"t": ":"}]},
  "mark": {"type": "text", "align": "left", "baseline": "alphabetic", "font": "Liberation Serif", "fontSize": 41.7, "color": "black"},
  "encoding": {"text": {"field": "t"}, "x": {"value": 516}, "y": {"value": 72}}},
 {"data": {"values": [{"w":2,"t":"Cyclic"},{"w":3,"t":"voltammograms"},{"w":4,"t":"at"},{"w":5,"t":"0.05,"},{"w":6,"t":"0.1,"},{"w":7,"t":"0.2,"},{"w":8,"t":"0.5,"},{"w":9,"t":"1,"},{"w":10,"t":"2,"},{"w":11,"t":"5"},{"w":12,"t":"and"},{"w":13,"t":"10"},{"w":14,"t":"V/s"},{"w":15,"t":"of"},{"w":16,"t":"a"},{"w":17,"t":"1"},{"w":18,"t":"mM"}]},
  "mark": {"type": "text", "align": "left", "baseline": "alphabetic", "font": "Liberation Serif", "fontSize": 41.7, "color": "black"},
  "encoding": {"text": {"field": "t"}, "y": {"value": 72},
   "x": {"field": "w", "type": "quantitative", "axis": null, "scale": {"nice": false, "zero": false, "domain": [2,3,4,5,6,7,8,9,10,11,12,13,14,15,16,17,18], "range": [543.9,669.1,956.6,1003.1,1102.8,1181.8,1260.7,1339.7,1387.3,1435.0,1472.2,1548.8,1606.9,1681.2,1732.3,1767.2,1804.5]}}}},
 {"data": {"values": [{"w":1,"t":"ferrocene"},{"w":2,"t":"solution"},{"w":3,"t":"in"},{"w":4,"t":"CH₃CN"},{"w":5,"t":"with"},{"w":6,"t":"50"},{"w":7,"t":"mM"},{"w":8,"t":"of"},{"w":9,"t":"[NBu₄][PF₆]"},{"w":10,"t":"as"},{"w":11,"t":"supporting"},{"w":12,"t":"electrolyte."},{"w":13,"t":"The"}]},
  "mark": {"type": "text", "align": "left", "baseline": "alphabetic", "font": "Liberation Serif", "fontSize": 41.7, "color": "black"},
  "encoding": {"text": {"field": "t"}, "y": {"value": 127.5},
   "x": {"field": "w", "type": "quantitative", "axis": null, "scale": {"nice": false, "zero": false, "domain": [1,2,3,4,5,6,7,8,9,10,11,12,13], "range": [312,487.7,640.3,691.1,837.7,930.1,990.0,1077.8,1130.8,1354.8,1407.8,1604.4,1809.2]}}}},
 {"data": {"values": [{"w":1,"t":"data"},{"w":2,"t":"was"},{"w":3,"t":"collected"},{"w":4,"t":"without"},{"w":5,"t":"(red,"},{"w":6,"t":"left)"},{"w":7,"t":"and"},{"w":8,"t":"with"},{"w":9,"t":"(green,"},{"w":10,"t":"right)"},{"w":11,"t":"ohmic"},{"w":12,"t":"drop"},{"w":13,"t":"compensation."},{"w":14,"t":"Data"}]},
  "mark": {"type": "text", "align": "left", "baseline": "alphabetic", "font": "Liberation Serif", "fontSize": 41.7, "color": "black"},
  "encoding": {"text": {"field": "t"}, "y": {"value": 183},
   "x": {"field": "w", "type": "quantitative", "axis": null, "scale": {"nice": false, "zero": false, "domain": [1,2,3,4,5,6,7,8,9,10,11,12,13,14], "range": [312,393.6,470.5,633.1,772.7,862.3,943.9,1016.2,1102.5,1231.5,1336.2,1452.6,1541.1,1795.3]}}}},
 {"data": {"values": [{"w":1,"t":"collected"},{"w":2,"t":"on"},{"w":3,"t":"a"},{"w":4,"t":"3"},{"w":5,"t":"mm"},{"w":6,"t":"diameter"},{"w":7,"t":"glassy"},{"w":8,"t":"carbon"},{"w":9,"t":"working"},{"w":10,"t":"electrode,"},{"w":11,"t":"with"},{"w":12,"t":"a"},{"w":13,"t":"platinum"},{"w":14,"t":"counter"}]},
  "mark": {"type": "text", "align": "left", "baseline": "alphabetic", "font": "Liberation Serif", "fontSize": 41.7, "color": "black"},
  "encoding": {"text": {"field": "t"}, "y": {"value": 238.5},
   "x": {"field": "w", "type": "quantitative", "axis": null, "scale": {"nice": false, "zero": false, "domain": [1,2,3,4,5,6,7,8,9,10,11,12,13,14], "range": [312,480.5,540.2,576.7,615.5,698.4,862.2,984.5,1115.9,1272.9,1454.1,1546.2,1582.7,1748.9]}}}},
 {"data": {"values": [{"t": "electrode and a silver wire pseudo-reference electrode in a fritted compartment."}]},
  "mark": {"type": "text", "align": "left", "baseline": "alphabetic", "font": "Liberation Serif", "fontSize": 41.7, "color": "black"},
  "encoding": {"text": {"field": "t"}, "x": {"value": 312}, "y": {"value": 294}}}
]
}
]
}
